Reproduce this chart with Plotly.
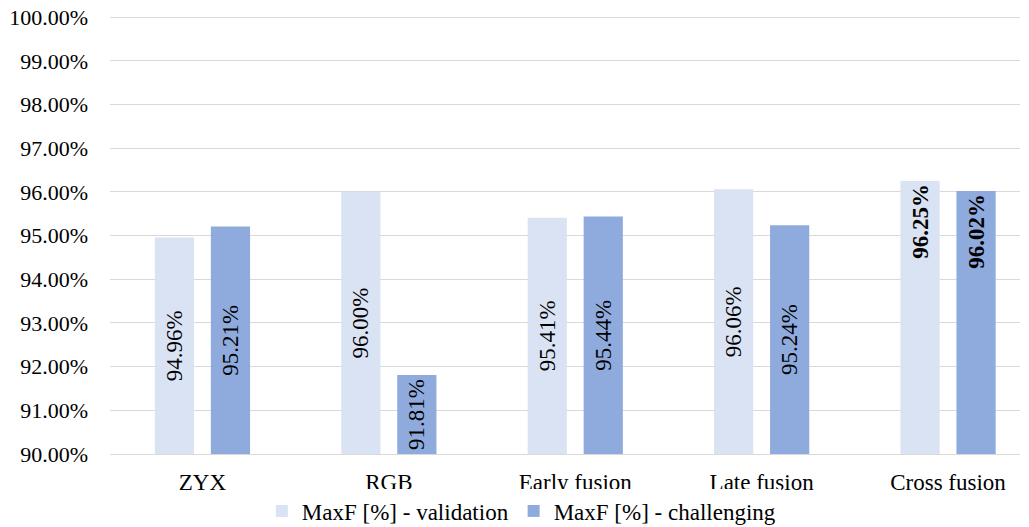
import plotly.graph_objects as go

categories = ["ZYX", "RGB", "Early fusion", "Late fusion", "Cross fusion"]
validation = [94.96, 96.00, 95.41, 96.06, 96.25]
challenging = [95.21, 91.81, 95.44, 95.24, 96.02]
series_names = ["MaxF [%] - validation", "MaxF [%] - challenging"]
colors = ["#DAE3F3", "#8FAADC"]
base_value = 90
bold_categories = ["Cross fusion"]

FONT = "Times New Roman, Tinos, Liberation Serif, DejaVu Serif, serif"
fig = go.Figure()

for name, vals, col in zip(series_names, [validation, challenging], colors):
    norm_idx = [i for i, c in enumerate(categories) if c not in bold_categories]
    bold_idx = [i for i, c in enumerate(categories) if c in bold_categories]
    fig.add_trace(go.Bar(
        name=name,
        x=[categories[i] for i in norm_idx],
        y=[vals[i] - base_value for i in norm_idx],
        base=base_value,
        text=[f"{vals[i]:.2f}%" for i in norm_idx],
        textposition="inside",
        insidetextanchor="middle",
        textangle=-90,
        textfont=dict(family=FONT, size=23, color="#000000"),
        marker=dict(color=col, line=dict(width=0)),
        offsetgroup=name,
        legendgroup=name,
        hoverinfo="skip",
    ))
    fig.add_trace(go.Bar(
        name=name,
        x=[categories[i] for i in bold_idx],
        y=[vals[i] - base_value for i in bold_idx],
        base=base_value,
        text=[f"<b>{vals[i]:.2f}%</b>" for i in bold_idx],
        textposition="inside",
        insidetextanchor="end",
        textangle=-90,
        textfont=dict(family=FONT, size=23, color="#000000"),
        marker=dict(color=col, line=dict(width=0)),
        offsetgroup=name,
        legendgroup=name,
        showlegend=False,
        hoverinfo="skip",
    ))

fig.update_layout(
    width=1029, height=527,
    margin=dict(l=110, r=9, t=16, b=73, autoexpand=False),
    paper_bgcolor="white", plot_bgcolor="white",
    barmode="group",
    bargap=0.399, bargroupgap=0.30,
    font=dict(family=FONT, size=22, color="#000000"),
    legend=dict(orientation="h", xref="paper", yref="paper",
                x=0.452, xanchor="center", y=-0.13, yanchor="middle",
                font=dict(family=FONT, size=23, color="#000000"),
                itemwidth=30, tracegroupgap=0),
)
fig.update_xaxes(categoryorder="array", categoryarray=categories, automargin=False,
                 range=[-0.496, 4.386],
                 showgrid=False, showline=True, linecolor="#d9d9d9", linewidth=1,
                 ticks="", ticklabelstandoff=7,
                 tickfont=dict(family=FONT, size=23, color="#000000"))
fig.update_yaxes(range=[90, 100.03], dtick=1, tickformat=".2f", ticksuffix="%",
                 automargin=False,
                 showgrid=True, gridcolor="#d9d9d9", gridwidth=1,
                 zeroline=False, showline=False, ticks="",
                 ticklabelstandoff=21,
                 tickfont=dict(family=FONT, size=22, color="#000000"))

fig.write_html("out.html", config={"displayModeBar": False},
               post_script="document.body.style.margin='0';")
